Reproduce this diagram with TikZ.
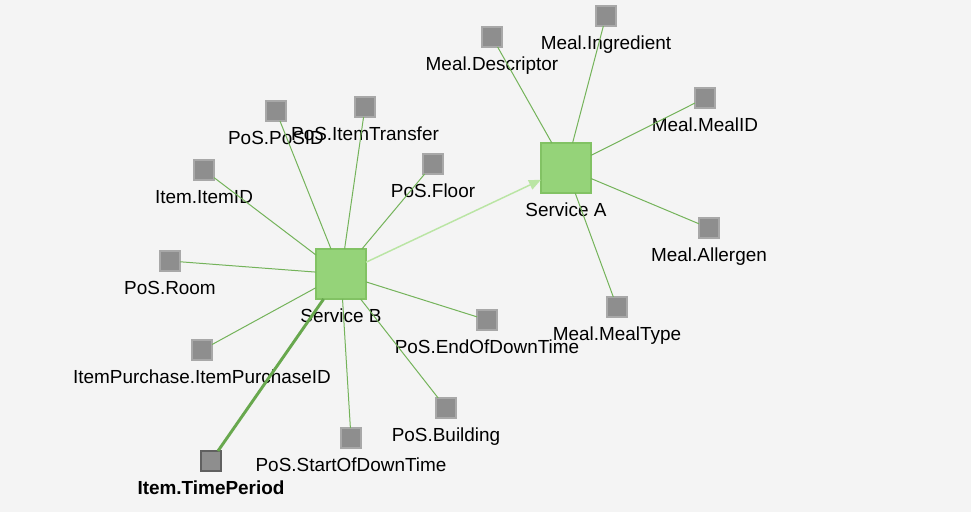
\documentclass[tikz,border=0pt]{standalone}
\usepackage{fontspec}
\setmainfont{Liberation Sans}
\usetikzlibrary{arrows.meta,positioning}
\definecolor{Canvas}{HTML}{F4F4F4}
\definecolor{Leaf}{HTML}{95D379}
\definecolor{LeafEdge}{HTML}{82C264}
\definecolor{Stem}{HTML}{74B35A}
\definecolor{StemDark}{HTML}{68A84E}
\definecolor{Sprout}{HTML}{BAE5A4}
\definecolor{Stone}{HTML}{8E8E8E}
\definecolor{StoneEdge}{HTML}{A8A8A8}
\definecolor{Slate}{HTML}{606060}
\tikzset{
  service/.style={
    draw=LeafEdge, line width=1pt, fill=Leaf,
    minimum size=37.5pt, inner sep=0pt, outer sep=0pt
  },
  field/.style={
    draw=StoneEdge, line width=1pt, fill=Stone,
    minimum size=15pt, inner sep=0pt, outer sep=0pt
  },
  tag/.style={
    inner sep=0pt, outer sep=0pt, text height=10.3pt, text depth=3pt,
    font=\fontsize{14.2}{17}\selectfont
  },
  link/.style={draw=Stem, line width=0.75pt},
  boldlink/.style={draw=StemDark, line width=2.2pt},
  call/.style={-{Triangle[length=9pt,width=7.5pt]}, draw=Sprout, line width=1.1pt}
}

\begin{document}
\begin{tikzpicture}[x=0.75pt,y=-0.75pt,node distance=7.5pt]
    \fill[Canvas] (0,0) rectangle (971,512);
    % services
    \node[service] (svcb) at (341,274) {};
    \node[tag,below=of svcb] (svcb-t) {Service B};
    \node[service] (svca) at (566,168) {};
    \node[tag,below=of svca] (svca-t) {Service A};
    % fields of service A
    \node[field] (mdesc) at (492,37) {};
    \node[tag,below=of mdesc] (mdesc-t) {Meal.Descriptor};
    \node[field] (mingr) at (606,16) {};
    \node[tag,below=of mingr] (mingr-t) {Meal.Ingredient};
    \node[field] (mmeal) at (705,98) {};
    \node[tag,below=of mmeal] (mmeal-t) {Meal.MealID};
    \node[field] (mallg) at (709,228) {};
    \node[tag,below=of mallg] (mallg-t) {Meal.Allergen};
    \node[field] (mtype) at (617,307) {};
    \node[tag,below=of mtype] (mtype-t) {Meal.MealType};
    % fields of service B
    \node[field] (posid) at (276,111) {};
    \node[tag,below=of posid] (posid-t) {PoS.PoSID};
    \node[field] (ptran) at (365,107) {};
    \node[tag,below=of ptran] (ptran-t) {PoS.ItemTransfer};
    \node[field] (pflor) at (433,164) {};
    \node[tag,below=of pflor] (pflor-t) {PoS.Floor};
    \node[field] (itmid) at (204,170) {};
    \node[tag,below=of itmid] (itmid-t) {Item.ItemID};
    \node[field] (proom) at (170,261) {};
    \node[tag,below=of proom] (proom-t) {PoS.Room};
    \node[field] (ipurc) at (202,350) {};
    \node[tag,below=of ipurc] (ipurc-t) {ItemPurchase.ItemPurchaseID};
    \node[field,draw=Slate,line width=1.6pt] (tperd) at (211,461) {};
    \node[tag,below=of tperd,font=\fontsize{14.2}{17}\selectfont\bfseries] (tperd-t) {Item.TimePeriod};
    \node[field] (pstrt) at (351,438) {};
    \node[tag,below=of pstrt] (pstrt-t) {PoS.StartOfDownTime};
    \node[field] (pbldg) at (446,408) {};
    \node[tag,below=of pbldg] (pbldg-t) {PoS.Building};
    \node[field] (pendt) at (487,320) {};
    \node[tag,below=of pendt] (pendt-t) {PoS.EndOfDownTime};
    % links
    \draw[link] (svca)--(mdesc);
    \draw[link] (svca)--(mingr);
    \draw[link] (svca)--(mmeal);
    \draw[link] (svca)--(mallg);
    \draw[link] (svca)--(mtype);
    \draw[link] (svcb)--(posid);
    \draw[link] (svcb)--(ptran);
    \draw[link] (svcb)--(pflor);
    \draw[link] (svcb)--(itmid);
    \draw[link] (svcb)--(proom);
    \draw[link] (svcb)--(ipurc);
    \draw[boldlink] (svcb)--(tperd);
    \draw[link] (svcb)--(pstrt);
    \draw[link] (svcb)--(pbldg);
    \draw[link] (svcb)--(pendt);
    \draw[call] (svcb)--(svca);
  \end{tikzpicture}
\end{document}
